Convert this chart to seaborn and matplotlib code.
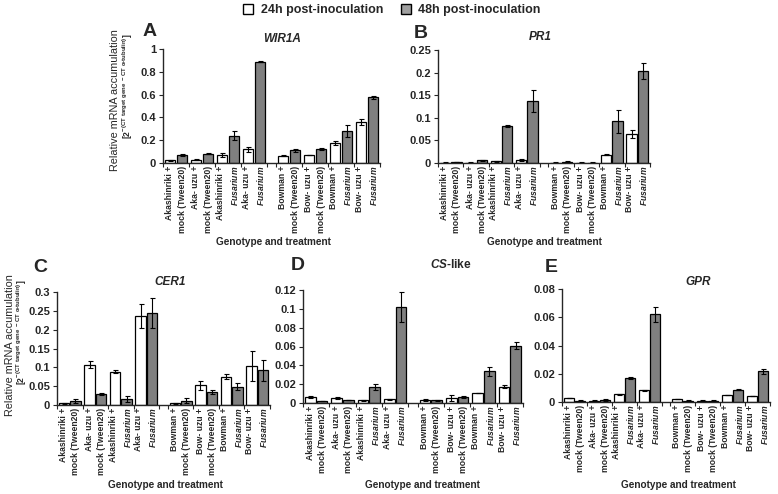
import numpy as np
import pandas as pd
import matplotlib
matplotlib.use("Agg")
import matplotlib.pyplot as plt
import seaborn as sns
from matplotlib.patches import Patch
from matplotlib.ticker import FuncFormatter

treatments = [
    "Akashinriki +\nmock (Tween20)",
    "Aka- uzu +\nmock (Tween20)",
    "Akashinriki +\n$\\it{Fusarium}$",
    "Aka- uzu +\n$\\it{Fusarium}$",
    "Bowman +\nmock (Tween20)",
    "Bow- uzu +\nmock (Tween20)",
    "Bowman +\n$\\it{Fusarium}$",
    "Bow- uzu +\n$\\it{Fusarium}$",
]
times = ["24h post-inoculation", "48h post-inoculation"]

# A - WIR1A
wir1a_24 = [0.023, 0.03, 0.07, 0.12, 0.065, 0.07, 0.175, 0.36]
wir1a_24_err = [0.003, 0.003, 0.015, 0.02, 0.004, 0.004, 0.02, 0.025]
wir1a_48 = [0.07, 0.08, 0.24, 0.89, 0.11, 0.125, 0.28, 0.575]
wir1a_48_err = [0.006, 0.004, 0.04, 0.008, 0.015, 0.01, 0.05, 0.015]

# B - PR1
pr1_24 = [0.001, 0.001, 0.004, 0.007, 0.001, 0.001, 0.018, 0.064]
pr1_24_err = [0.0005, 0.0005, 0.001, 0.002, 0.0005, 0.0005, 0.001, 0.008]
pr1_48 = [0.002, 0.006, 0.081, 0.137, 0.003, 0.001, 0.092, 0.203]
pr1_48_err = [0.0005, 0.001, 0.002, 0.025, 0.0005, 0.0005, 0.025, 0.018]

# C - CER1
cer1_24 = [0.004, 0.107, 0.088, 0.237, 0.004, 0.052, 0.075, 0.104]
cer1_24_err = [0.001, 0.01, 0.004, 0.032, 0.001, 0.012, 0.006, 0.04]
cer1_48 = [0.01, 0.03, 0.016, 0.244, 0.011, 0.035, 0.049, 0.092]
cer1_48_err = [0.005, 0.003, 0.008, 0.04, 0.007, 0.005, 0.01, 0.028]

# D - CS-like
cs_24 = [0.006, 0.005, 0.003, 0.004, 0.003, 0.005, 0.0105, 0.0175]
cs_24_err = [0.001, 0.001, 0.0004, 0.0007, 0.001, 0.003, 0.0003, 0.002]
cs_48 = [0.002, 0.003, 0.017, 0.102, 0.003, 0.006, 0.0335, 0.061]
cs_48_err = [0.0003, 0.0003, 0.003, 0.016, 0.0005, 0.001, 0.005, 0.004]

# E - GPR
gpr_24 = [0.0028, 0.001, 0.0055, 0.0083, 0.0022, 0.001, 0.005, 0.0043]
gpr_24_err = [0.0003, 0.0002, 0.0005, 0.0003, 0.0002, 0.0002, 0.0003, 0.0003]
gpr_48 = [0.001, 0.0015, 0.017, 0.062, 0.001, 0.001, 0.0088, 0.0216]
gpr_48_err = [0.0002, 0.0005, 0.0005, 0.0055, 0.0002, 0.0005, 0.0006, 0.0015]

sns.set_style("ticks")
plt.rcParams["font.family"] = ["Liberation Sans", "DejaVu Sans"]
plt.rcParams["mathtext.fontset"] = "custom"
plt.rcParams["mathtext.rm"] = "Liberation Sans:bold"
plt.rcParams["mathtext.it"] = "Liberation Sans:italic:bold"
plt.rcParams["mathtext.bf"] = "Liberation Sans:bold"
plt.rcParams["axes.linewidth"] = 1.0

GAP = 0.35
idx = np.arange(len(treatments))
pos = idx + GAP * (idx >= 4)
bounds = sorted(set(np.round(np.concatenate([pos - 0.5, pos + 0.5]), 3)))
colors = {times[0]: "white", times[1]: "#808080"}

fig = plt.figure(figsize=(7.78, 4.94), dpi=100)
W, H = 778.0, 494.0


def rect(x0, x1, ytop, ybot):
    return [x0 / W, 1 - ybot / H, (x1 - x0) / W, (ybot - ytop) / H]


def draw_panel(r, v24, e24, v48, e48, ymax, ystep):
    ax = fig.add_axes(r)
    df = pd.DataFrame({
        "pos": np.concatenate([pos, pos]),
        "value": v24 + v48,
        "time": [times[0]] * len(v24) + [times[1]] * len(v48),
    })
    sns.barplot(data=df, x="pos", y="value", hue="time", hue_order=times,
                native_scale=True, palette=colors, saturation=1,
                edgecolor="black", linewidth=0.9, width=0.9, gap=0.1,
                errorbar=None, legend=False, ax=ax)
    bars = sorted(ax.patches, key=lambda p: p.get_x())
    errs = [e for pair in zip(e24, e48) for e in pair]
    for p, e in zip(bars, errs):
        ax.errorbar(p.get_x() + p.get_width() / 2, p.get_height(), yerr=e,
                    color="black", lw=0.8, capsize=1.8, capthick=0.8)
    ax.set_xlim(bounds[0], bounds[-1])
    ax.set_ylim(0, ymax)
    ax.set_yticks(np.arange(0, ymax + ystep / 2, ystep))
    ax.yaxis.set_major_formatter(FuncFormatter(lambda v, _: "{:g}".format(round(v, 4))))
    ax.set_xticks(pos)
    ax.set_xticklabels(treatments, rotation=90, fontsize=6.2, fontweight="bold",
                       linespacing=1.45, va="top", ha="center")
    for lbl in ax.get_xticklabels():
        lbl.set_multialignment("right")
        lbl.set_fontweight("bold")
    ax.set_xticks(bounds, minor=True)
    ax.tick_params(axis="x", which="major", length=0, pad=2)
    ax.tick_params(axis="x", which="minor", length=3, width=0.8, direction="out")
    ax.tick_params(axis="y", length=3, width=0.8, direction="out", pad=2, labelsize=8)
    for lbl in ax.get_yticklabels():
        lbl.set_fontweight("bold")
    ax.set_xlabel("")
    ax.set_ylabel("")
    sns.despine(ax=ax)
    return ax


draw_panel(rect(163, 380, 49, 163), wir1a_24, wir1a_24_err, wir1a_48, wir1a_48_err, 1.0, 0.2)
draw_panel(rect(438, 650, 50, 163), pr1_24, pr1_24_err, pr1_48, pr1_48_err, 0.25, 0.05)
draw_panel(rect(57, 270, 292, 405), cer1_24, cer1_24_err, cer1_48, cer1_48_err, 0.3, 0.05)
draw_panel(rect(303, 523, 290, 403), cs_24, cs_24_err, cs_48, cs_48_err, 0.12, 0.02)
draw_panel(rect(562, 770, 289, 402), gpr_24, gpr_24_err, gpr_48, gpr_48_err, 0.08, 0.02)


def ftext(x, y, s, **kw):
    fig.text(x / W, 1 - y / H, s, ha="center", va="center", **kw)


# panel letters
for letter, x, y in [("A", 150, 32), ("B", 421, 34), ("C", 40, 267), ("D", 298, 266), ("E", 551, 267)]:
    ftext(x, y, letter, fontsize=14, fontweight="bold")

# gene titles
ftext(282, 39, "WIR1A", fontsize=8.5, fontweight="bold", fontstyle="italic")
ftext(540, 37, "PR1", fontsize=8.5, fontweight="bold", fontstyle="italic")
ftext(170, 282, "CER1", fontsize=8.5, fontweight="bold", fontstyle="italic")
ftext(451, 265, "$\\it{CS}$-like", fontsize=8.5, fontweight="bold")
ftext(698, 282, "GPR", fontsize=8.5, fontweight="bold", fontstyle="italic")

# x labels
for x, y in [(273, 242), (544, 242), (165, 485), (422, 485), (678, 485)]:
    ftext(x, y, "Genotype and treatment", fontsize=7.2, fontweight="bold")

# y labels
ylab2 = r"[2$^{\mathbf{-(CT\ target\ gene\ -CT\ \alpha}\text{-}\mathbf{tubulin)}}$]"
for (x1, y1), (x2, y2) in [((115, 100), (128, 86)), ((10, 345), (22, 332))]:
    ftext(x1, y1, "Relative mRNA accumulation", fontsize=7.8, rotation=90)
    ftext(x2, y2, ylab2, fontsize=6.2, fontweight="bold", rotation=90)

# legend
handles = [Patch(facecolor="white", edgecolor="black", linewidth=1),
           Patch(facecolor="#a0a0a0", edgecolor="black", linewidth=1)]
fig.legend(handles=handles, labels=times, loc="center", bbox_to_anchor=(0.504, 0.979),
           ncol=2, frameon=False, prop={"weight": "bold", "size": 9},
           handlelength=0.8, handleheight=0.8, handletextpad=0.6, columnspacing=1.4)

fig.savefig("out.png", dpi=100)
